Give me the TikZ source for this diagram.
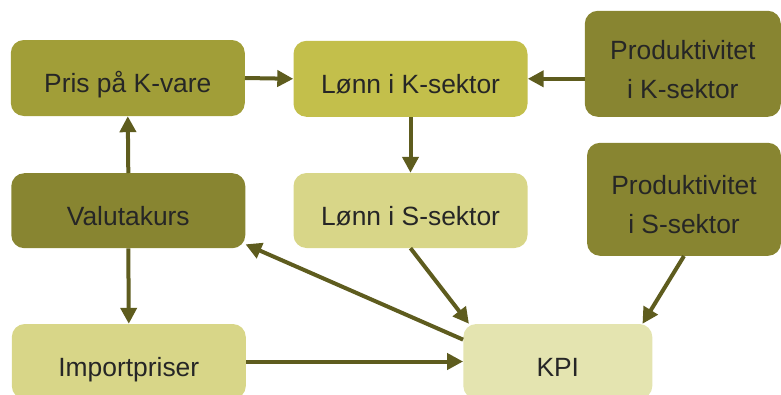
\documentclass[tikz,border=0pt]{standalone}
\usepackage{fontspec}
\setmainfont{Liberation Sans}
\usetikzlibrary{arrows.meta}
\definecolor{prisfill}{RGB}{161,158,56}
\definecolor{lonnkfill}{RGB}{195,191,75}
\definecolor{prodfill}{RGB}{136,133,49}
\definecolor{lonnsfill}{RGB}{216,214,136}
\definecolor{kpifill}{RGB}{228,228,176}
\definecolor{arrowcol}{RGB}{94,92,30}
\begin{document}
\begin{tikzpicture}[x=1pt,y=-1pt,
    box/.style={rounded corners=13pt, inner sep=0pt, align=center, text=black!85,
        font=\fontsize{26.4}{39}\selectfont},
    oneline/.style={box, text height=29pt, text depth=0pt},
    flow/.style={draw=arrowcol, line width=4pt, -{Triangle[length=16pt,width=16pt]}}]
    \clip (0,0) rectangle (781,394);
    % Top row
    \node[oneline, fill=prisfill, minimum width=234pt, minimum height=76pt] (pris) at (127.8,78) {Pris på K-vare};
    \node[oneline, fill=lonnkfill, minimum width=234pt, minimum height=76pt] (lonnK) at (410.5,78.8) {Lønn i K-sektor};
    \node[box, fill=prodfill, minimum width=196pt, minimum height=106pt] (prodK) at (682.8,63.8) {\rule{0pt}{31pt}Produktivitet\\i K-sektor};
    % Middle row
    \node[oneline, fill=prodfill, minimum width=234pt, minimum height=75pt] (valuta) at (128.3,210.7) {Valutakurs};
    \node[oneline, fill=lonnsfill, minimum width=234pt, minimum height=75pt] (lonnS) at (410.5,210.5) {Lønn i S-sektor};
    \node[box, fill=prodfill, minimum width=194pt, minimum height=113pt] (prodS) at (684,199.3) {\rule{0pt}{30pt}Produktivitet\\i S-sektor};
    % Bottom row
    \node[oneline, fill=lonnsfill, minimum width=234pt, minimum height=75pt] (import) at (128.8,361.5) {Importpriser};
    \node[oneline, fill=kpifill, minimum width=189pt, minimum height=75pt] (kpi) at (557.8,361.5) {KPI};
    % Arrows
    \foreach \a/\b in {pris.east/lonnK.west, lonnK.south/lonnS.north, valuta.north/pris.south,
        valuta.south/import.north, import.east/kpi.west, kpi.167/valuta.-16,
        lonnS.south/kpi.157, prodS.south/kpi.24}
        \draw[flow] (\a) -- (\b);
    \draw[flow] (lonnK.east -| prodK.west) -- (lonnK.east);
\end{tikzpicture}
\end{document}
